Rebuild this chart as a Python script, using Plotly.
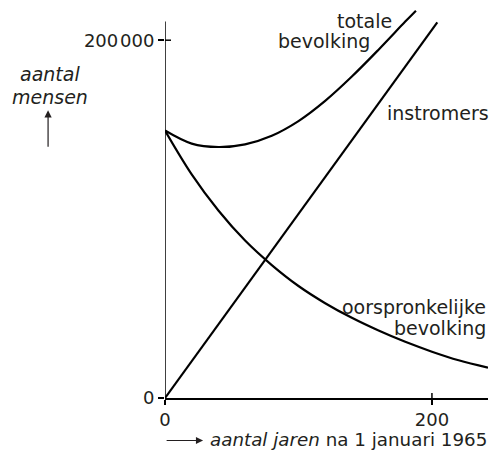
import plotly.graph_objects as go

# Data (years after 1 Jan 1965, number of people)
instromers_x = [0, 204]
instromers_y = [0, 210000]

oorspr_x = [0, 20, 40, 60, 80, 100, 120, 140, 160, 180, 200, 220, 242]
oorspr_y = [149500, 125000, 104800, 88000, 74300, 62600, 53000, 44800, 37700, 31400, 25900, 21100, 17000]

totale_x = [0, 20, 40, 60, 80, 100, 120, 140, 160, 180, 188]
totale_y = [149500, 142200, 140300, 141800, 146600, 154800, 166100, 179700, 194700, 210400, 216500]

x_tickvals = [0, 200]
x_ticktext = ["0", "200"]
y_tickvals = [0, 200000]
y_ticktext = ["0", "200\u200a000"]

FONT = "DejaVu Sans, Verdana, sans-serif"
TXT = "#231f20"
LW = 2.2

fig = go.Figure()
for xs, ys in [(instromers_x, instromers_y), (oorspr_x, oorspr_y), (totale_x, totale_y)]:
    fig.add_trace(go.Scatter(x=xs, y=ys, mode="lines",
                             line=dict(color="black", width=LW, shape="spline", smoothing=1.0),
                             hoverinfo="skip", showlegend=False))

fig.update_layout(
    width=490, height=450,
    margin=dict(l=165, r=2, t=8, b=52),
    paper_bgcolor="white", plot_bgcolor="white",
    font=dict(family=FONT, size=18, color=TXT),
    showlegend=False,
    xaxis=dict(range=[0, 242], showgrid=False, zeroline=False,
               showline=True, linecolor="black", linewidth=1.5,
               tickvals=x_tickvals, ticktext=x_ticktext,
               ticks="outside", ticklen=5, tickwidth=1.5, tickcolor="black",
               tickfont=dict(size=18, color=TXT, family=FONT)),
    yaxis=dict(range=[0, 218000], showgrid=False, zeroline=False,
               showline=False,
               tickvals=y_tickvals, ticktext=y_ticktext,
               ticks="outside", ticklen=6, tickwidth=1.5, tickcolor="black",
               tickfont=dict(size=18, color=TXT, family=FONT)),
)

# y axis line (stops at ~210000) and inner halves of the crossing ticks
fig.add_shape(type="line", x0=0, x1=0, y0=0, y1=210500, xref="x", yref="y",
              line=dict(color="black", width=1.5))
fig.add_shape(type="line", x0=0, x1=4.5, y0=200000, y1=200000, xref="x", yref="y",
              line=dict(color="black", width=1.5))
fig.add_shape(type="line", x0=200, x1=200, y0=0, y1=2800, xref="x", yref="y",
              line=dict(color="black", width=1.5))

def lab(text, x, y, xanchor, yanchor="middle", xref="x", yref="y", size=19):
    fig.add_annotation(text=text, x=x, y=y, xref=xref, yref=yref, showarrow=False,
                       xanchor=xanchor, yanchor=yanchor,
                       font=dict(family=FONT, size=size, color=TXT))

lab("totale", 171.2, 211000, "right")
lab("bevolking", 155.0, 199500, "right")
lab("instromers", 164.5, 159300, "left")
lab("oorspronkelijke", 1.0, 50900, "right", xref="paper")
lab("bevolking", 1.0, 39100, "right", xref="paper")

lab("<i>aantal</i>", -0.356, 0.831, "center", xref="paper", yref="paper")
lab("<i>mensen</i>", -0.356, 0.772, "center", xref="paper", yref="paper")

# vertical arrow under "aantal mensen"
fig.add_annotation(x=-0.362, y=0.738, xref="paper", yref="paper", text="",
                   showarrow=True, ax=0, ay=38, arrowhead=2, arrowsize=1.2,
                   arrowwidth=1.2, arrowcolor=TXT)

# horizontal arrow before x title
fig.add_annotation(x=0.118, y=-0.109, xref="paper", yref="paper", text="",
                   showarrow=True, ax=-38, ay=0, arrowhead=2, arrowsize=1.2,
                   arrowwidth=1.2, arrowcolor=TXT)
lab("<i>aantal jaren</i> na 1 januari 1965", 0.134, -0.107, "left",
    xref="paper", yref="paper", size=18.3)

fig.write_html("out.html", config={"displayModeBar": False},
               post_script="document.body.style.margin='0';")
